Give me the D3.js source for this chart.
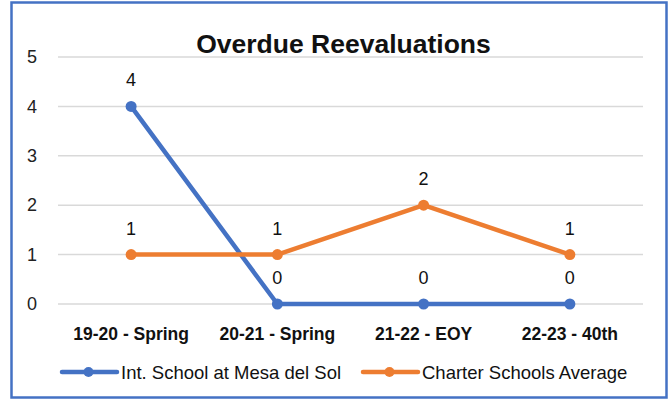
<!DOCTYPE html>
<html>
<head>
<meta charset="utf-8">
<script src="https://cdn.jsdelivr.net/npm/d3@7"></script>
<style>
  html, body { margin: 0; padding: 0; background: #fff; }
  svg { display: block; font-family: "Liberation Sans", Arial, sans-serif; }
</style>
</head>
<body>
<svg id="chart" width="671" height="403"></svg>
<script>
(function () {
const title = "Overdue Reevaluations";
const categories = ["19-20 - Spring", "20-21 - Spring", "21-22 - EOY", "22-23 - 40th"];
const seriesNames = ["Int. School at Mesa del Sol", "Charter Schools Average"];
const mesaDelSol = [4, 0, 0, 0];
const charterAvg = [1, 1, 2, 1];
const yTicks = [0, 1, 2, 3, 4, 5];
const colors = ["#4472C4", "#ED7D31"];

const series = [
  { name: seriesNames[0], values: mesaDelSol, color: colors[0] },
  { name: seriesNames[1], values: charterAvg, color: colors[1] }
];

const svg = d3.select("#chart");

// frame
svg.append("rect")
  .attr("x", 11.5).attr("y", 2.5)
  .attr("width", 655).attr("height", 395)
  .attr("fill", "#fff")
  .attr("stroke", "#4472C4")
  .attr("stroke-width", 2.5);

const plotLeft = 58, plotRight = 643, plotTop = 57, plotBottom = 304;

const x = d3.scaleBand().domain(categories).range([plotLeft, plotRight]).padding(0);
const y = d3.scaleLinear().domain([0, 5]).range([plotBottom, plotTop]);
const cx = d => x(d) + x.bandwidth() / 2;

// gridlines
svg.append("g").selectAll("line")
  .data(yTicks).join("line")
  .attr("x1", plotLeft).attr("x2", plotRight)
  .attr("y1", d => y(d)).attr("y2", d => y(d))
  .attr("stroke", "#D9D9D9").attr("stroke-width", 1.5);

// y axis
const yAxis = svg.append("g")
  .attr("transform", `translate(${plotLeft},0)`)
  .call(d3.axisLeft(y).tickValues(yTicks).tickSize(0).tickPadding(21).tickFormat(d3.format("d")));
yAxis.select(".domain").remove();
yAxis.selectAll("text")
  .attr("font-size", 18)
  .attr("font-family", '"Liberation Sans", Arial, sans-serif')
  .attr("fill", "#222");

// x axis
const xAxis = svg.append("g")
  .attr("transform", `translate(0,${plotBottom})`)
  .call(d3.axisBottom(x).tickSize(0).tickPadding(24));
xAxis.select(".domain").remove();
xAxis.selectAll("text")
  .attr("font-size", 17.5)
  .attr("font-weight", "bold")
  .attr("font-family", '"Liberation Sans", Arial, sans-serif')
  .attr("fill", "#111");

// title
svg.append("text")
  .attr("x", 343.5).attr("y", 53)
  .attr("text-anchor", "middle")
  .attr("font-size", 26.5)
  .attr("font-weight", "bold")
  .attr("fill", "#111")
  .text(title);

// lines
const line = d3.line()
  .x((d, i) => cx(categories[i]))
  .y(d => y(d));

series.forEach(s => {
  const g = svg.append("g");
  g.append("path")
    .datum(s.values)
    .attr("d", line)
    .attr("fill", "none")
    .attr("stroke", s.color)
    .attr("stroke-width", 4.5)
    .attr("stroke-linejoin", "round")
    .attr("stroke-linecap", "round");
  g.selectAll("circle")
    .data(s.values).join("circle")
    .attr("cx", (d, i) => cx(categories[i]))
    .attr("cy", d => y(d))
    .attr("r", 5.5)
    .attr("fill", s.color);
});

// data labels
series.forEach(s => {
  svg.append("g").selectAll("text")
    .data(s.values).join("text")
    .attr("x", (d, i) => cx(categories[i]))
    .attr("y", d => y(d) - 20)
    .attr("text-anchor", "middle")
    .attr("font-size", 18)
    .attr("fill", "#111")
    .text(d => d);
});

// legend
const legendItems = [
  { lineX: 62, textX: 121 },
  { lineX: 363, textX: 422 }
];
const ly = 372;
series.forEach((s, i) => {
  const li = legendItems[i];
  const g = svg.append("g");
  g.append("line")
    .attr("x1", li.lineX).attr("x2", li.lineX + 55)
    .attr("y1", ly).attr("y2", ly)
    .attr("stroke", s.color).attr("stroke-width", 4.5)
    .attr("stroke-linecap", "round");
  g.append("circle")
    .attr("cx", li.lineX + 26.5).attr("cy", ly)
    .attr("r", 5).attr("fill", s.color);
  g.append("text")
    .attr("x", li.textX).attr("y", ly + 6.5)
    .attr("font-size", 18.5)
    .attr("fill", "#111")
    .text(s.name);
});
})();
</script>
</body>
</html>
